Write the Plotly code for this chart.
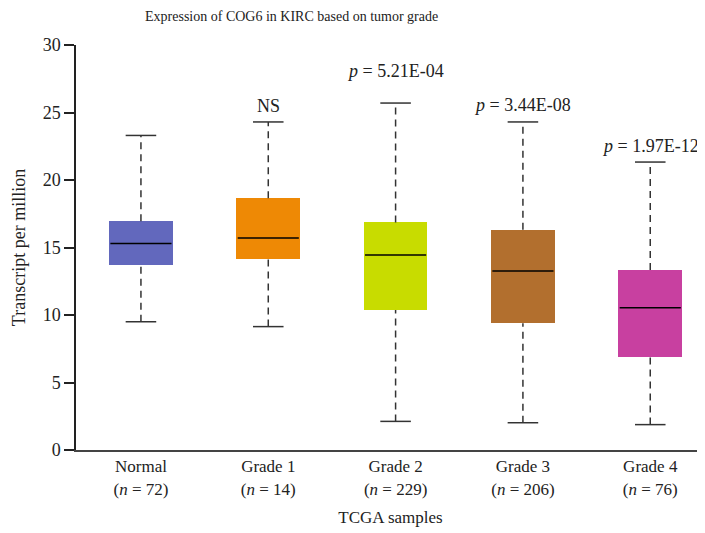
import plotly.graph_objects as go

# Данные: квартили и усы для каждой группы
groups = ["Normal", "Grade 1", "Grade 2", "Grade 3", "Grade 4"]
n_samples = [72, 14, 229, 206, 76]
whisker_low = [9.5, 9.14, 2.12, 2.02, 1.88]
q1 = [13.7, 14.15, 10.37, 9.38, 6.86]
median = [15.3, 15.7, 14.44, 13.26, 10.54]
q3 = [16.94, 18.64, 16.86, 16.32, 13.33]
whisker_high = [23.3, 24.3, 25.7, 24.3, 21.33]
p_labels = ["", "NS", "<i>p</i> = 5.21E-04", "<i>p</i> = 3.44E-08", "<i>p</i> = 1.97E-12"]
colors = ["#6268BD", "#EE8905", "#C8DC00", "#B26F2E", "#C840A0"]

FONT = "Liberation Serif, Times New Roman, serif"
BOX_HALF = 0.25
CAP_HALF = 0.12
# сдвиг подписей над усами (px)
label_shift = [0, 4, 20, 5, 4]

fig = go.Figure()

for i, g in enumerate(groups):
    # Усы (пунктир)
    fig.add_trace(go.Scatter(
        x=[i, i, None, i, i],
        y=[whisker_low[i], q1[i], None, q3[i], whisker_high[i]],
        mode="lines",
        line=dict(color="#333333", width=1.5, dash="7px,5px"),
        hoverinfo="skip",
        showlegend=False
    ))
    # Засечки на концах усов
    fig.add_trace(go.Scatter(
        x=[i - CAP_HALF, i + CAP_HALF, None, i - CAP_HALF, i + CAP_HALF],
        y=[whisker_low[i], whisker_low[i], None, whisker_high[i], whisker_high[i]],
        mode="lines",
        line=dict(color="#333333", width=1.5),
        hoverinfo="skip",
        showlegend=False
    ))
    # Коробка
    fig.add_trace(go.Bar(
        x=[i],
        y=[q3[i] - q1[i]],
        base=[q1[i]],
        width=2 * BOX_HALF,
        marker=dict(color=colors[i], line=dict(width=0)),
        showlegend=False
    ))
    # Медиана
    fig.add_trace(go.Scatter(
        x=[i - BOX_HALF + 0.01, i + BOX_HALF - 0.01],
        y=[median[i], median[i]],
        mode="lines",
        line=dict(color="black", width=1.5),
        hoverinfo="skip",
        showlegend=False
    ))
    if p_labels[i]:
        fig.add_annotation(
            x=i, y=whisker_high[i], text=p_labels[i],
            showarrow=False, yanchor="bottom", yshift=label_shift[i],
            font=dict(family=FONT, size=18, color="#222222")
        )

tick_text = [f"{g}<br>(<i>n</i> = {n})" for g, n in zip(groups, n_samples)]

fig.add_annotation(
    xref="paper", yref="paper", x=0.343, y=1.0, yshift=29,
    text="Expression of COG6 in KIRC based on tumor grade",
    showarrow=False, yanchor="middle",
    font=dict(family=FONT, size=14, color="#222222")
)

# страница имеет отступ 8px, поэтому поля уменьшены
fig.update_layout(
    width=697, height=525,
    margin=dict(l=68, r=0, t=37, b=83),
    plot_bgcolor="white",
    paper_bgcolor="white",
    font=dict(family=FONT, size=17, color="#222222"),
    bargap=0,
    xaxis=dict(
        range=[-0.51, 4.43],
        tickvals=list(range(len(groups))),
        ticktext=tick_text,
        tickfont=dict(size=17),
        showgrid=False, zeroline=False,
        showline=True, linecolor="#444444", linewidth=2,
        ticks="",
        title=dict(text="TCGA samples", standoff=14, font=dict(size=17)),
    ),
    yaxis=dict(
        range=[0, 30],
        tickvals=[0, 5, 10, 15, 20, 25, 30],
        tickfont=dict(size=18),
        showgrid=False, zeroline=False,
        showline=True, linecolor="#222222", linewidth=1.5,
        ticks="outside", ticklen=10, tickcolor="#222222", tickwidth=1.5,
        title=dict(text="Transcript per million", standoff=12, font=dict(size=18)),
    ),
)

fig.write_html("out.html")
